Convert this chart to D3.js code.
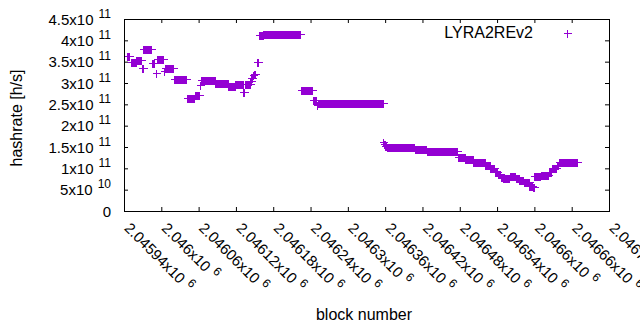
<!DOCTYPE html>
<html lang="en">
<head>
<meta charset="utf-8">
<title>LYRA2REv2 hashrate per block</title>
<script src="https://d3js.org/d3.v7.min.js"></script>
<style>
  body { margin: 0; background: #fff; }
  svg text { font-family: "Liberation Sans", Arial, sans-serif; fill: #000; }
</style>
</head>
<body>
<svg width="640" height="330"></svg>
<script>
// hashrate estimate stays flat over runs of blocks, so the points are kept
// as runs: first block, last block, value
var runFirst = [2045945, 2045951, 2045960, 2045969, 2045971, 2045985, 2045991, 2045993, 2046004, 2046006,
                2046020, 2046041, 2046054, 2046062, 2046064, 2046087, 2046108, 2046119, 2046132, 2046134,
                2046143, 2046145, 2046147, 2046149, 2046154, 2046157, 2046164, 2046224, 2046244, 2046250,
                2046252, 2046357, 2046358, 2046360, 2046363, 2046408, 2046427, 2046477, 2046489, 2046502,
                2046521, 2046529, 2046536, 2046541, 2046546, 2046549, 2046560, 2046570, 2046576, 2046583,
                2046592, 2046597, 2046600, 2046610, 2046623, 2046628, 2046636, 2046639];
var runLast  = [2045948, 2045959, 2045968, 2045970, 2045984, 2045989, 2045992, 2046003, 2046005, 2046019,
                2046040, 2046053, 2046060, 2046063, 2046086, 2046107, 2046118, 2046131, 2046133, 2046142,
                2046144, 2046146, 2046148, 2046150, 2046155, 2046163, 2046223, 2046243, 2046249, 2046251,
                2046356, 2046357, 2046359, 2046362, 2046407, 2046426, 2046476, 2046488, 2046501, 2046520,
                2046528, 2046535, 2046540, 2046545, 2046548, 2046559, 2046569, 2046575, 2046582, 2046591,
                2046596, 2046599, 2046609, 2046622, 2046627, 2046635, 2046638, 2046668];
var runHash  = [3.64e11, 3.50e11, 3.54e11, 3.34e11, 3.79e11, 3.48e11, 3.23e11, 3.555e11, 3.28e11, 3.34e11,
                3.087e11, 2.655e11, 2.71e11, 2.95e11, 3.065e11, 3.01e11, 2.93e11, 2.97e11, 2.78e11, 2.97e11,
                3.05e11, 3.12e11, 3.19e11, 3.22e11, 3.50e11, 4.12e11, 4.14e11, 2.836e11, 2.61e11, 2.48e11,
                2.524e11, 1.62e11, 1.58e11, 1.535e11, 1.49e11, 1.446e11, 1.41e11, 1.27e11, 1.21e11, 1.16e11,
                1.08e11, 1.00e11, 0.92e11, 0.86e11, 0.80e11, 0.77e11, 0.82e11, 0.77e11, 0.727e11, 0.672e11,
                0.59e11, 0.555e11, 0.82e11, 0.85e11, 0.92e11, 1.00e11, 1.08e11, 1.14e11];

var xTickBlocks = [2045940, 2046000, 2046060, 2046120, 2046180, 2046240, 2046300,
                   2046360, 2046420, 2046480, 2046540, 2046600, 2046660, 2046720];
var xTickText = ["2.04594", "2.046", "2.04606", "2.04612", "2.04618", "2.04624", "2.0463",
                 "2.04636", "2.04642", "2.04648", "2.04654", "2.0466", "2.04666", "2.04672"];
var xTickExp = "6";

var yTickValues = [0, 5e10, 1e11, 1.5e11, 2e11, 2.5e11, 3e11, 3.5e11, 4e11, 4.5e11];
var yTickText = ["0", "5", "1", "1.5", "2", "2.5", "3", "3.5", "4", "4.5"];
var yTickExp = ["", "10", "11", "11", "11", "11", "11", "11", "11", "11"];

var seriesName = "LYRA2REv2";

function drawChart() {
    var svg = d3.select("svg");
    var color = "#9400d3";
    // plot frame in pixels
    var pl = 124, pr = 609, pt = 19, pb = 211;

    var x = d3.scaleLinear().domain([2045940, 2046720]).range([pl, pr]);
    var y = d3.scaleLinear().domain([0, 4.5e11]).range([pb, pt]);

    // expand the runs into one point per block
    var points = [];
    runFirst.forEach(function(b0, i) {
        for (var b = b0; b <= runLast[i]; b++) {
            points.push({block: b, hash: runHash[i]});
        }
    });

    function plus(cx, cy, r) {
        return "M" + (cx - r) + "," + cy + "H" + (cx + r) + "M" + cx + "," + (cy - r) + "V" + (cy + r);
    }

    // points
    svg.append("g")
       .attr("stroke", color)
       .attr("stroke-width", 1)
       .attr("fill", "none")
       .attr("shape-rendering", "crispEdges")
     .selectAll("path")
       .data(points)
       .join("path")
       .attr("d", function(d) { return plus(Math.round(x(d.block)) + 0.5, Math.round(y(d.hash)) + 0.5, 4); });

    // ticks on all four sides, pointing inward
    function tickAxis(axis, tx, ty) {
        var g = svg.append("g")
            .attr("transform", "translate(" + tx + "," + ty + ")")
            .call(axis.tickSizeInner(-4).tickSizeOuter(0));
        g.select(".domain").remove();
        g.selectAll(".tick line").attr("stroke", "#000");
        return g;
    }

    var gx = tickAxis(d3.axisBottom(x).tickValues(xTickBlocks), 0, pb);
    tickAxis(d3.axisTop(x).tickValues(xTickBlocks).tickFormat(""), 0, pt);
    var gy = tickAxis(d3.axisLeft(y).tickValues(yTickValues), pl, 0);
    tickAxis(d3.axisRight(y).tickValues(yTickValues).tickFormat(""), pr, 0);

    // x labels: rotated, mantissa x10 with superscript
    gx.attr("font-size", null).attr("font-family", null);
    gx.selectAll(".tick text").each(function(d, i) {
        var t = d3.select(this);
        t.text(null)
         .attr("x", null).attr("y", null).attr("dy", null)
         .attr("fill", "#000")
         .attr("text-anchor", "start")
         .attr("font-size", 15)
         .attr("transform", "translate(-1,18) rotate(45)");
        t.append("tspan").text(xTickText[i] + "x10");
        t.append("tspan").attr("dx", 5).attr("dy", -6).attr("font-size", 12).text(xTickExp);
    });

    gy.attr("font-size", null).attr("font-family", null);
    gy.selectAll(".tick text").each(function(d, i) {
        var t = d3.select(this);
        t.text(null)
         .attr("x", -13).attr("dy", null).attr("y", 5)
         .attr("fill", "#000")
         .attr("text-anchor", "end")
         .attr("font-size", 15);
        if (yTickExp[i]) {
            t.append("tspan").text(yTickText[i] + "x10");
            t.append("tspan").attr("dx", 5).attr("dy", -7).attr("font-size", 12).text(yTickExp[i]);
        } else {
            t.append("tspan").text(yTickText[i]);
        }
    });

    // border
    svg.append("rect")
       .attr("x", pl + 0.5).attr("y", pt + 0.5)
       .attr("width", pr - pl).attr("height", pb - pt)
       .attr("fill", "none").attr("stroke", "#000");

    // axis titles
    svg.append("text")
       .attr("transform", "translate(22,118) rotate(-90)")
       .attr("text-anchor", "middle")
       .attr("font-size", 16)
       .text("hashrate [h/s]");
    svg.append("text")
       .attr("x", 364).attr("y", 320)
       .attr("text-anchor", "middle")
       .attr("font-size", 16)
       .text("block number");

    // legend
    svg.append("text")
       .attr("x", 533).attr("y", 37.5)
       .attr("text-anchor", "end")
       .attr("font-size", 16)
       .text(seriesName);
    svg.append("path")
       .attr("d", plus(567.5, 33.5, 4))
       .attr("stroke", color).attr("fill", "none")
       .attr("shape-rendering", "crispEdges");
}

drawChart();
</script>
</body>
</html>
